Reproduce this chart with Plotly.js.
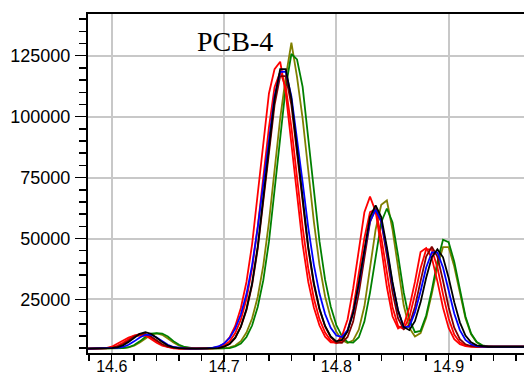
<!DOCTYPE html>
<html>
<head>
<meta charset="utf-8">
<script src="https://cdn.plot.ly/plotly-3.0.1.min.js"></script>
<style>
html,body{margin:0;padding:0;background:#fff;}
#chart{width:524px;height:378px;}
</style>
</head>
<body>
<div id="chart"></div>
<script>
// Retention time (min)
const retentionTime = [14.575,14.58,14.585,14.59,14.595,14.6,14.605,14.61,14.615,14.62,14.625,14.63,14.635,14.64,14.645,14.65,14.655,14.66,14.665,14.67,14.675,14.68,14.685,14.69,14.695,14.7,14.705,14.71,14.715,14.72,14.725,14.73,14.735,14.74,14.745,14.75,14.755,14.76,14.765,14.77,14.775,14.78,14.785,14.79,14.795,14.8,14.805,14.81,14.815,14.82,14.825,14.83,14.835,14.84,14.845,14.85,14.855,14.86,14.865,14.87,14.875,14.88,14.885,14.89,14.895,14.9,14.905,14.91,14.915,14.92,14.925,14.93,14.935,14.94,14.945,14.95,14.955,14.96,14.965,14.97];

const runRedA = [4800,4800,4800,4800,5000,5600,6800,8200,9400,10100,10300,10200,9300,7800,6400,5500,5000,4800,4800,4800,4800,4800,4800,5000,5600,6800,9400,14100,21500,32200,47600,67900,89300,109500,119500,122500,109500,89300,67900,47600,32200,21700,14300,9700,7400,7300,9900,16800,29500,45900,60800,67200,61100,46200,30100,18100,13100,14500,21700,32200,44500,46100,42100,32400,21600,13300,8700,6600,5900,5600,5600,5600,5600,5600,5600,5600,5600,5600,5600,5600];
const runRedB = [4800,4800,4800,4800,4900,5300,6000,7200,8800,10200,10800,10200,8800,7200,6000,5300,4900,4800,4800,4800,4800,4800,4800,4900,5300,6100,7800,11200,16700,25200,37700,54700,75200,95600,112100,118300,112100,95600,75200,54700,37700,25400,16900,11400,8100,7000,8000,12100,21100,34900,50200,60800,62000,50500,35300,21900,14100,12900,17600,27000,37800,45500,45500,38100,27100,17200,10600,7400,6100,5700,5600,5600,5600,5600,5600,5600,5600,5600,5600,5600];
const runMaroon = [4800,4800,4800,4800,4900,5100,5600,6600,8100,9800,10900,10900,9800,8100,6600,5600,5100,4900,4800,4800,4800,4800,4800,4800,5000,5600,6700,9200,13700,20700,30900,45700,65000,85400,104700,116600,116600,104700,85400,65000,45700,31100,20900,13900,9500,7300,7200,9600,15900,27500,42700,56700,62300,56700,43100,28100,17200,12800,14500,21900,32500,42600,46600,42600,32700,21800,13400,8700,6600,5900,5700,5600,5600,5600,5600,5600,5600,5600,5600,5600];
const runBlue = [4800,4800,4800,4800,4800,4900,5100,5500,6400,7800,9400,10500,10500,9400,7800,6400,5500,5100,4900,4800,4800,4800,4900,5200,5700,6900,9200,13000,18800,27200,39000,54500,73000,91600,108300,118400,118400,108300,91600,73000,54500,39200,27400,19000,13400,10200,9600,12400,19500,31000,44900,57100,61800,57100,45300,31500,20400,13600,13800,19700,28400,38100,44300,44300,38100,28500,19200,12400,8400,6600,5900,5700,5600,5600,5600,5600,5600,5600,5600,5600];
const runBlack = [4800,4800,4800,4800,4800,5000,5300,6100,7500,9300,10900,11600,10900,9300,7500,6100,5300,5000,4800,4800,4800,4800,4800,4800,5000,5600,6800,9300,13900,21100,31600,46700,66500,87400,107200,119500,119500,107200,87400,66500,46700,31800,21300,14100,9800,7800,8400,11900,19500,31700,46200,58800,63600,58800,46500,32200,20400,13700,12400,16100,23800,33900,42300,45600,42300,33900,23900,15600,10200,7400,6200,5800,5600,5600,5600,5600,5600,5600,5600,5600];
const runOlive = [4800,4800,4800,4800,4800,4800,4800,5000,5300,6000,7300,9000,10500,11100,10500,9000,7300,6000,5300,5000,4800,4800,4800,4800,4800,4900,5300,6100,7900,11400,17200,26000,39000,56700,78000,99200,116300,130300,116300,99200,78000,56900,39200,26200,17400,11700,8300,7100,8200,12600,22200,37300,53700,63800,65600,53700,37300,22600,13300,9800,11200,17500,27300,38500,46500,46500,38500,27300,17300,10700,7400,6100,5700,5600,5600,5600,5600,5600,5600,5600];
const runGreen = [4800,4800,4800,4800,4800,4800,4800,5000,5400,6300,7800,9600,11000,11200,11000,9800,7900,6400,5500,5000,4800,4800,4800,4800,4800,4800,5000,5700,6900,9600,14300,21900,32900,48700,69500,91400,112200,125700,123500,112200,91400,69700,48900,33100,22100,14500,9900,7500,7300,9500,15900,27800,43000,56700,62300,56700,43000,27900,16800,11600,12100,18400,28800,40500,49500,48500,40500,28700,18000,11000,7500,6200,5700,5600,5600,5600,5600,5600,5600,5600];

const seriesList = [
  {y: runOlive,  color: '#808000'},
  {y: runGreen,  color: '#008000'},
  {y: runRedB,   color: '#FF0000'},
  {y: runRedA,   color: '#FF0000'},
  {y: runMaroon, color: '#800000'},
  {y: runBlue,   color: '#0000FF'},
  {y: runBlack,  color: '#000000'}
];

const traces = seriesList.map(s => ({
  x: retentionTime, y: s.y, type: 'scatter', mode: 'lines',
  line: {color: s.color, width: 1.8}, hoverinfo: 'skip', showlegend: false
}));

const tickFont = {family: 'Liberation Sans, Arial, sans-serif', size: 18, color: '#000'};

const layout = {
  width: 524, height: 378,
  margin: {l: 88, r: 0, t: 14, b: 25, pad: 0},
  paper_bgcolor: '#fff', plot_bgcolor: '#fff',
  showlegend: false,
  xaxis: {
    range: [14.5789, 14.9671], tick0: 14.6, dtick: 0.1,
    ticks: 'outside', ticklen: 7, tickwidth: 1.5, tickcolor: '#000',
    ticklabelstandoff: -9,
    showline: true, linewidth: 2, linecolor: '#000', mirror: true,
    showgrid: true, gridcolor: '#c8c8c8', gridwidth: 2, zeroline: false,
    tickfont: {family: 'Liberation Sans, Arial, sans-serif', size: 16, color: '#000'},
    tickformat: '.1f',
    minor: {dtick: 0.02, tick0: 14.6, ticks: 'outside', ticklen: 6, tickwidth: 1.5, tickcolor: '#000', showgrid: false}
  },
  yaxis: {
    range: [3030, 142100], tick0: 0, dtick: 25000,
    ticks: 'outside', ticklen: 11, tickwidth: 1.5, tickcolor: '#000',
    ticklabelstandoff: 1,
    showline: true, linewidth: 2, linecolor: '#000',
    showgrid: true, gridcolor: '#c8c8c8', gridwidth: 2, zeroline: false,
    tickfont: tickFont, tickformat: 'd',
    minor: {dtick: 5000, tick0: 0, ticks: 'outside', ticklen: 7, tickwidth: 1.5, tickcolor: '#000', showgrid: false}
  },
  annotations: [{
    text: 'PCB-4', xref: 'paper', yref: 'paper', x: 0.337, y: 0.92,
    xanchor: 'center', yanchor: 'middle', showarrow: false,
    font: {family: 'Liberation Serif, Times New Roman, serif', size: 28, color: '#000'}
  }]
};

Plotly.newPlot('chart', traces, layout, {staticPlot: true, displayModeBar: false});
</script>
</body>
</html>
